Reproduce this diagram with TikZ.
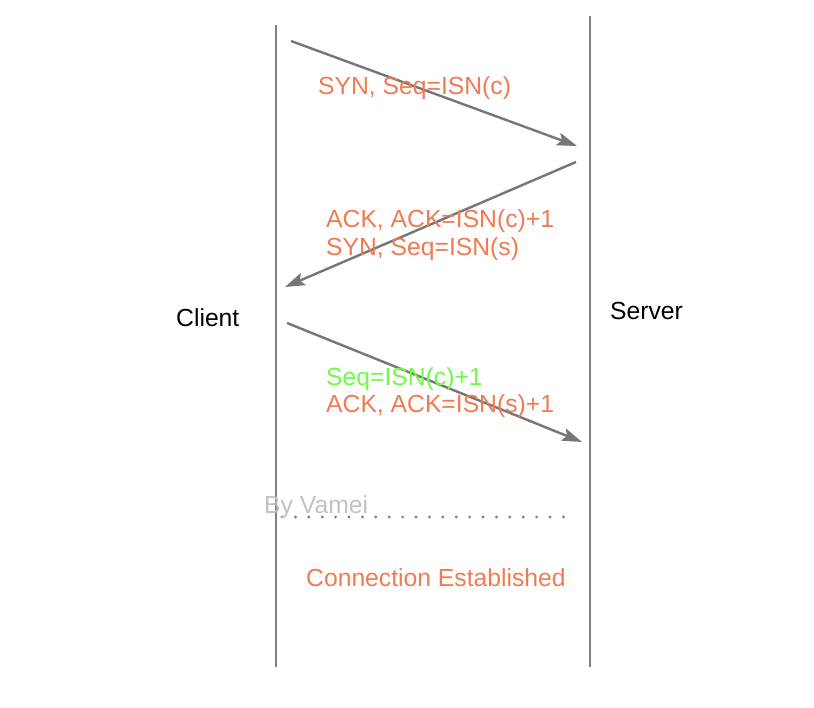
\documentclass[tikz,border=0pt]{standalone}
\usepackage{fontspec}
\setmainfont{Liberation Sans}
\usetikzlibrary{arrows.meta}
\definecolor{lifegray}{RGB}{128,128,128}
\definecolor{arrgray}{RGB}{118,118,118}
\definecolor{msgorange}{RGB}{240,122,82}
\definecolor{msggreen}{RGB}{110,250,70}
\definecolor{signgray}{RGB}{190,195,200}
\begin{document}
\begin{tikzpicture}[x=1pt,y=-1pt,
  lifeline/.style={draw=lifegray,line width=2.8pt},
  msg/.style={draw=arrgray,line width=2.4pt,-{Stealth[length=20pt,width=13pt,inset=4pt]}},
  lbl/.style={inner sep=0pt,anchor=base west,font=\fontsize{24.7}{28}\selectfont},
  orange/.style={lbl,text=msgorange},
  green/.style={lbl,text=msggreen}]
\useasboundingbox (0,0) rectangle (814,708);
% lifeline ends
\coordinate (ctop) at (276,25);
\coordinate (cbot) at (276,667);
\coordinate (stop) at (590,16);
\coordinate (sbot) at (590,667);
\draw[lifeline] (ctop) -- (cbot);
\draw[lifeline] (stop) -- (sbot);
% message ends
\coordinate (m1a) at (291,41);
\coordinate (m1b) at (577,146);
\coordinate (m2a) at (576,162);
\coordinate (m2b) at (285,287);
\coordinate (m3a) at (287,323);
\coordinate (m3b) at (582,442);
\draw[msg] (m1a) -- (m1b);
\draw[msg] (m2a) -- (m2b);
\draw[msg] (m3a) -- (m3b);
% dotted line
\coordinate (d1) at (282,517);
\coordinate (d2) at (566,517);
\draw[lifegray,line width=3.2pt,line cap=round,dash pattern=on 0pt off 13.4pt] (d1) -- (d2);
% labels
\node[orange] (t1) at (318,95) {SYN, Seq=ISN(c)};
\node[orange] (t2) at (326,228) {ACK, ACK=ISN(c)+1};
\node[orange] (t3) at (326,256) {SYN, Seq=ISN(s)};
\node[green]  (t4) at (326,386) {Seq=ISN(c)+1};
\node[orange] (t5) at (326,413) {ACK, ACK=ISN(s)+1};
\node[lbl] (client) at (176,327) {Client};
\node[lbl] (server) at (610,320) {Server};
\node[lbl,text=signgray] (sign) at (264,513) {By Vamei};
\node[orange] (est) at (306,586) {Connection Established};
\end{tikzpicture}
\end{document}
